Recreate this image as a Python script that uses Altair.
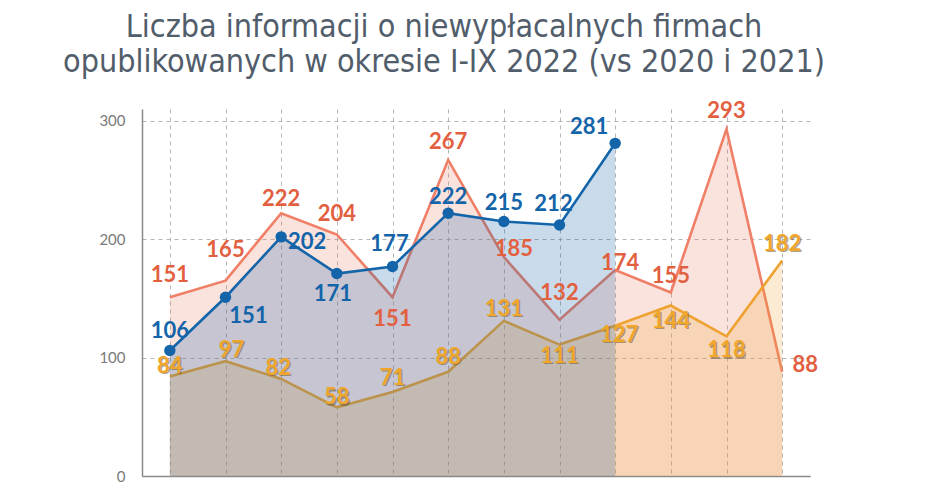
import altair as alt
import pandas as pd

months = ["I", "II", "III", "IV", "V", "VI", "VII", "VIII", "IX", "X", "XI", "XII"]
y2021 = [151, 165, 222, 204, 151, 267, 185, 132, 174, 155, 293, 88]
y2022 = [106, 151, 202, 171, 177, 222, 215, 212, 281]
y2020 = [84, 97, 82, 58, 71, 88, 131, 111, 127, 144, 118, 182]

# label offsets in pixels (dx, dy) relative to each point
off2021 = [(0, -22), (0, -31), (0, -14), (0, -20), (0, 22), (0, -18), (10, -8), (0, -27), (5, -7), (0, -17), (0, -18), (23, -7)]
off2022 = [(0, -20), (23, 19), (26, 5), (-4, 20), (-3, -22), (0, -16), (0, -18), (-6, -21), (-26, -16)]
off2020 = [(0, -11), (6, -11), (-3, -11), (0, -10), (0, -14), (0, -15), (0, -12), (0, 11), (4, 9), (0, 15), (0, 14), (0, -17)]

RED_LINE, RED_TXT = "#ef7f66", "#e2603f"
BLUE = "#1464aa"
YEL_LINE, YEL_TXT = "#eea232", "#f0a62a"


def frame(vals):
    return pd.DataFrame({"m": list(range(len(vals))), "month": months[: len(vals)], "v": vals})


d21, d22, d20 = frame(y2021), frame(y2022), frame(y2020)

X = alt.X(
    "m:Q",
    scale=alt.Scale(domain=[-0.5, 11.5], nice=False, zero=False),
    axis=alt.Axis(values=list(range(12)), labels=False, ticks=False, grid=True,
                  gridDash=[4, 4], gridColor="#b4b4b4", domainColor="#8a8a8a",
                  domainWidth=1.5, title=None),
)
Y = alt.Y(
    "v:Q",
    scale=alt.Scale(domain=[0, 310], nice=False),
    axis=alt.Axis(values=[0, 100, 200, 300], grid=True, gridDash=[4, 4], gridColor="#b4b4b4",
                  labelFont="Lato", labelFontSize=15, labelColor="#7a7a7a", ticks=False,
                  domainColor="#8a8a8a", domainWidth=1.5, labelPadding=17, title=None),
)


def area(df, color, op=0.22):
    return alt.Chart(df).mark_area(color=color, opacity=op).encode(x=X, y=Y)


def line(df, color):
    return alt.Chart(df).mark_line(color=color, strokeWidth=2.6).encode(x=X, y=Y)


def labels(df, offs, color, shadow=False):
    groups = {}
    for i, o in enumerate(offs):
        groups.setdefault(o, []).append(i)
    layers = []
    for (dx, dy), idx in groups.items():
        base = alt.Chart(df).transform_filter(alt.FieldOneOfPredicate(field="m", oneOf=idx))
        if shadow:
            layers.append(base.mark_text(font="Lato", fontSize=22, fontWeight="bold", color="#6b5a3a",
                                         opacity=0.55, dx=dx + 1.2, dy=dy + 1.2, baseline="middle")
                          .encode(x=X, y=Y, text="v:Q"))
        layers.append(base.mark_text(font="Lato", fontSize=22, fontWeight="bold", color=color,
                                     dx=dx, dy=dy, baseline="middle")
                      .encode(x=X, y=Y, text="v:Q"))
    return layers


layers = [
    area(d21, RED_LINE), line(d21, RED_LINE),
    area(d20, YEL_LINE), line(d20, YEL_LINE),
    area(d22, BLUE, 0.23), line(d22, BLUE),
    alt.Chart(d22).mark_point(filled=True, opacity=1, color=BLUE, size=130).encode(x=X, y=Y),
]
layers += labels(d21, off2021, RED_TXT)
layers += labels(d22, off2022, BLUE)
layers += labels(d20, off2020, YEL_TXT, shadow=True)

chart = alt.layer(*layers).properties(
    width=668,
    height=367,
    autosize=alt.AutoSizeParams(type="none"),
    padding={"left": 134, "top": 101, "right": 100, "bottom": 14},
    title=alt.TitleParams(
        text=["Liczba informacji o niewypłacalnych firmach",
              "opublikowanych w okresie I-IX 2022 (vs 2020 i 2021)"],
        font="'Liberation Sans Narrow', 'DejaVu Sans Condensed', 'Roboto Condensed', Roboto",
        fontSize=32, fontWeight="normal", color="#515d6b",
        anchor="middle", dx=-32, offset=21, lineHeight=35,
    ),
).configure_view(stroke=None)

chart.save("out.html", embed_options={"renderer": "svg", "actions": False})
